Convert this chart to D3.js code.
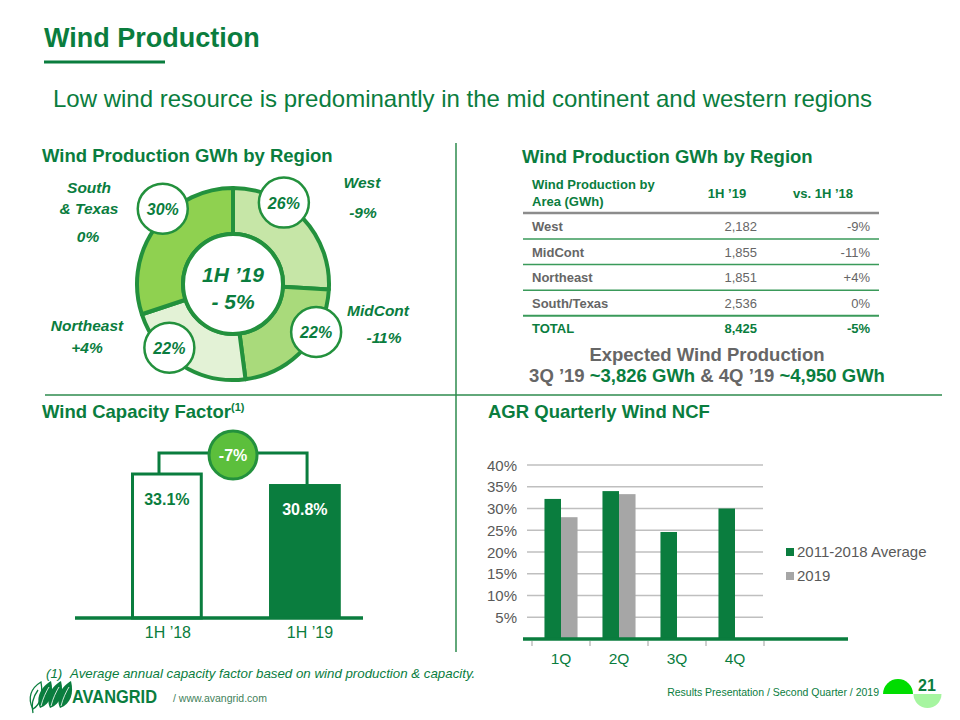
<!DOCTYPE html>
<html>
<head>
<meta charset="utf-8">
<title>Wind Production</title>
<script src="https://d3js.org/d3.v7.min.js"></script>
<style>
  body { margin: 0; background: #fff; }
  svg text { font-family: "Liberation Sans", Arial, sans-serif; }
</style>
</head>
<body>
<script>
// ---- data ----
const regions = ["West", "MidCont", "Northeast", "South/Texas"];
const regionLabels = [["West"], ["MidCont"], ["Northeast"], ["South", "& Texas"]];
const gwh1H19 = [2182, 1855, 1851, 2536];
const shareLabels = ["26%", "22%", "22%", "30%"];
const changeVs1H18 = ["-9%", "-11%", "+4%", "0%"];
const totalGwh = 8425;
const totalChange = "-5%";
const centerLabel = ["1H ’19", "- 5%"];

const capCategories = ["1H ’18", "1H ’19"];
const capValues = [33.1, 30.8];
const capChange = "-7%";

const quarters = ["1Q", "2Q", "3Q", "4Q"];
const seriesNames = ["2011-2018 Average", "2019"];
const ncfAverage = [32.2, 34.0, 24.6, 30.0];
const ncf2019 = [28.0, 33.3, null, null];
const ncfTicks = [5, 10, 15, 20, 25, 30, 35, 40];

// ---- styles ----
const green = "#0a7d3e";
const ringGreen = "#23913d";
const gray = "#666666";
const axisGray = "#595959";
const sliceColors = ["#c6e6a7", "#a9da7b", "#e3f2d6", "#8fd150"];

const svg = d3.select("body").append("svg")
  .attr("width", 960).attr("height", 720);

// ---- titles ----
svg.append("text").attr("x", 44).attr("y", 47)
  .attr("font-size", 27).attr("font-weight", "bold").attr("fill", green)
  .text("Wind Production");
svg.append("line").attr("x1", 44).attr("x2", 165).attr("y1", 62).attr("y2", 62)
  .attr("stroke", green).attr("stroke-width", 3);
svg.append("text").attr("x", 53).attr("y", 107)
  .attr("font-size", 24).attr("fill", green)
  .text("Low wind resource is predominantly in the mid continent and western regions");

// dividers
svg.append("line").attr("x1", 456).attr("x2", 456).attr("y1", 143).attr("y2", 652)
  .attr("stroke", "#2e8b4e").attr("stroke-width", 1.5);
svg.append("line").attr("x1", 45).attr("x2", 942).attr("y1", 395).attr("y2", 395)
  .attr("stroke", "#2e8b4e").attr("stroke-width", 1.5);

function header(x, y, txt) {
  return svg.append("text").attr("x", x).attr("y", y)
    .attr("font-size", 18.5).attr("font-weight", "bold").attr("fill", green).text(txt);
}
header(42, 162, "Wind Production GWh by Region");
header(522, 163, "Wind Production GWh by Region");
const capHead = header(42, 418, "Wind Capacity Factor");
capHead.append("tspan").attr("font-size", 11).attr("dy", -7).text("(1)");
header(488, 418, "AGR Quarterly Wind NCF");

// ---- donut ----
const cx = 233, cy = 284;
const pie = d3.pie().sort(null).value(d => d)(gwh1H19);
const arc = d3.arc().innerRadius(50).outerRadius(96);
const donut = svg.append("g").attr("transform", `translate(${cx},${cy})`);
donut.selectAll("path").data(pie).join("path")
  .attr("d", arc)
  .attr("fill", (d, i) => sliceColors[i])
  .attr("stroke", ringGreen).attr("stroke-width", 4).attr("stroke-linejoin", "round");
donut.append("circle").attr("r", 50).attr("fill", "#fff")
  .attr("stroke", ringGreen).attr("stroke-width", 4);
donut.selectAll("text.center").data(centerLabel).join("text")
  .attr("class", "center").attr("text-anchor", "middle")
  .attr("y", (d, i) => i === 0 ? -2 : 25)
  .attr("font-size", 21).attr("font-weight", "bold").attr("font-style", "italic")
  .attr("fill", green).text(d => d);

// share bubbles on the ring
const bubbleAngle = [32, 120, 225, 317];
const bubbleDist = [96, 96, 90, 103];
const bubbles = donut.selectAll("g.bubble").data(shareLabels).join("g")
  .attr("class", "bubble")
  .attr("transform", (d, i) => {
    const a = bubbleAngle[i] * Math.PI / 180;
    return `translate(${bubbleDist[i] * Math.sin(a)},${-bubbleDist[i] * Math.cos(a)})`;
  });
bubbles.append("circle").attr("r", 25).attr("fill", "#fff")
  .attr("stroke", ringGreen).attr("stroke-width", 2.5);
bubbles.append("text").attr("text-anchor", "middle").attr("y", 6)
  .attr("font-size", 16).attr("font-weight", "bold").attr("font-style", "italic")
  .attr("fill", green).text(d => d);

// region labels
const labelX = [362, 378, 87, 89];
const labelY = [188, 316, 331, 193];
const changeX = [363, 384, 87, 88];
const changeY = [218, 343, 353, 242];
regions.forEach((r, i) => {
  const t = svg.append("text").attr("text-anchor", "middle")
    .attr("font-size", 15.5).attr("font-weight", "bold").attr("font-style", "italic")
    .attr("fill", green);
  regionLabels[i].forEach((line, j) => {
    t.append("tspan").attr("x", labelX[i]).attr("y", labelY[i] + j * 21).text(line);
  });
  svg.append("text").attr("text-anchor", "middle")
    .attr("x", changeX[i]).attr("y", changeY[i])
    .attr("font-size", 15.5).attr("font-weight", "bold").attr("font-style", "italic")
    .attr("fill", green).text(changeVs1H18[i]);
});

// ---- table ----
const tbl = svg.append("g");
const colName = 532, colNum = 757, colPct = 870;
const fmt = d3.format(",");
const rowY = i => 231 + i * 25.6;
tbl.append("text").attr("font-size", 13).attr("font-weight", "bold").attr("fill", green)
  .call(t => {
    t.append("tspan").attr("x", colName).attr("y", 189).text("Wind Production by");
    t.append("tspan").attr("x", colName).attr("y", 206).text("Area (GWh)");
  });
tbl.append("text").attr("x", 727).attr("y", 198).attr("text-anchor", "middle")
  .attr("font-size", 13).attr("font-weight", "bold").attr("fill", green).text("1H ’19");
tbl.append("text").attr("x", 823).attr("y", 198).attr("text-anchor", "middle")
  .attr("font-size", 13).attr("font-weight", "bold").attr("fill", green).text("vs. 1H ’18");
tbl.append("line").attr("x1", 523).attr("x2", 879).attr("y1", 213).attr("y2", 213)
  .attr("stroke", "#8c8c8c").attr("stroke-width", 2.5);

regions.forEach((r, i) => {
  const y = rowY(i);
  tbl.append("text").attr("x", colName).attr("y", y).attr("font-size", 13)
    .attr("font-weight", "bold").attr("fill", gray).text(r);
  tbl.append("text").attr("x", colNum).attr("y", y).attr("text-anchor", "end")
    .attr("font-size", 13).attr("fill", gray).text(fmt(gwh1H19[i]));
  tbl.append("text").attr("x", colPct).attr("y", y).attr("text-anchor", "end")
    .attr("font-size", 13).attr("fill", gray).text(changeVs1H18[i]);
  tbl.append("line").attr("x1", 523).attr("x2", 879)
    .attr("y1", y + 8).attr("y2", y + 8)
    .attr("stroke", "#3a9a5a").attr("stroke-width", i === 3 ? 2 : 1.5);
});
const ty = rowY(4);
tbl.append("text").attr("x", colName).attr("y", ty).attr("font-size", 13)
  .attr("font-weight", "bold").attr("fill", green).text("TOTAL");
tbl.append("text").attr("x", colNum).attr("y", ty).attr("text-anchor", "end")
  .attr("font-size", 13).attr("font-weight", "bold").attr("fill", green).text(fmt(totalGwh));
tbl.append("text").attr("x", colPct).attr("y", ty).attr("text-anchor", "end")
  .attr("font-size", 13).attr("font-weight", "bold").attr("fill", green).text(totalChange);

svg.append("text").attr("x", 707).attr("y", 361).attr("text-anchor", "middle")
  .attr("font-size", 18.5).attr("font-weight", "bold").attr("fill", gray)
  .text("Expected Wind Production");
const exp = svg.append("text").attr("x", 707).attr("y", 382).attr("text-anchor", "middle")
  .attr("font-size", 18.5).attr("font-weight", "bold").attr("fill", gray);
[["3Q ’19 ", gray], ["~3,826 GWh ", green], ["& 4Q ’19 ", gray], ["~4,950 GWh", green]]
  .forEach(([s, c]) => exp.append("tspan").attr("fill", c).text(s));

// ---- capacity factor bars ----
const yCap = d3.scaleLinear().domain([0, 40]).range([618, 444]);
const xCap = d3.scaleBand().domain(capCategories).range([96.5, 375.3])
  .paddingInner(0.48).paddingOuter(0.25);
const bw = xCap.bandwidth();
const cap = svg.append("g");

// connector
const c1x = xCap(capCategories[0]) + bw * 0.39;
const c2x = xCap(capCategories[1]) + bw * 0.53;
cap.append("path")
  .attr("d", `M${c1x},${yCap(capValues[0])}V453H${c2x}V${yCap(capValues[1])}`)
  .attr("fill", "none").attr("stroke", green).attr("stroke-width", 3);

cap.selectAll("rect").data(capValues).join("rect")
  .attr("x", (d, i) => xCap(capCategories[i]) + (i === 0 ? 1.5 : 0))
  .attr("y", d => yCap(d))
  .attr("width", (d, i) => i === 0 ? bw - 3 : bw)
  .attr("height", d => yCap(0) - yCap(d))
  .attr("fill", (d, i) => i === 0 ? "#fff" : green)
  .attr("stroke", green).attr("stroke-width", (d, i) => i === 0 ? 3 : 0);

cap.append("line").attr("x1", 75).attr("x2", 363)
  .attr("y1", yCap(0)).attr("y2", yCap(0))
  .attr("stroke", green).attr("stroke-width", 3.5);

cap.selectAll("text.val").data(capValues).join("text")
  .attr("class", "val").attr("text-anchor", "middle")
  .attr("x", (d, i) => xCap(capCategories[i]) + bw / 2)
  .attr("y", d => yCap(d) + 31)
  .attr("font-size", 16).attr("font-weight", "bold")
  .attr("fill", (d, i) => i === 0 ? green : "#fff")
  .text(d => d.toFixed(1) + "%");

cap.selectAll("text.cat").data(capCategories).join("text")
  .attr("class", "cat").attr("text-anchor", "middle")
  .attr("x", (d, i) => xCap(d) + bw / 2 + (i === 0 ? 1 : 5))
  .attr("y", 638)
  .attr("font-size", 16).attr("fill", green).text(d => d);

const midX = (c1x + c2x) / 2;
cap.append("circle").attr("cx", midX).attr("cy", 455).attr("r", 24)
  .attr("fill", "#5cbf3c").attr("stroke", ringGreen).attr("stroke-width", 3);
cap.append("text").attr("x", midX).attr("y", 461).attr("text-anchor", "middle")
  .attr("font-size", 16).attr("font-weight", "bold").attr("fill", "#fff").text(capChange);

svg.append("text").attr("x", 46).attr("y", 678)
  .attr("font-size", 13.3).attr("font-style", "italic").attr("fill", green).text("(1)");
svg.append("text").attr("x", 70).attr("y", 678)
  .attr("font-size", 13.3).attr("font-style", "italic").attr("fill", green)
  .text("Average annual capacity factor based on wind production & capacity.");

// ---- quarterly NCF ----
const x0 = d3.scaleBand().domain(quarters).range([532, 764])
  .paddingInner(0.43).paddingOuter(0.215);
const x1 = d3.scaleBand().domain(seriesNames).range([0, x0.bandwidth()]);
const y = d3.scaleLinear().domain([0, 40]).range([639, 465]);
const seriesColors = [green, "#a6a6a6"];
const ncf = svg.append("g");

ncf.selectAll("line.grid").data(ncfTicks).join("line")
  .attr("class", "grid").attr("x1", 527).attr("x2", 763)
  .attr("y1", d => y(d)).attr("y2", d => y(d))
  .attr("stroke", "#bfbfbf").attr("stroke-width", 1.5);
ncf.selectAll("text.tick").data(ncfTicks).join("text")
  .attr("class", "tick").attr("x", 517).attr("y", d => y(d) + 5.5)
  .attr("text-anchor", "end").attr("font-size", 15).attr("fill", axisGray)
  .text(d => d + "%");

const series = [ncfAverage, ncf2019];
series.forEach((vals, s) => {
  ncf.selectAll(`rect.s${s}`).data(vals.map((v, i) => ({ v, q: quarters[i] })).filter(d => d.v != null))
    .join("rect").attr("class", `s${s}`)
    .attr("x", d => x0(d.q) + x1(seriesNames[s]))
    .attr("y", d => y(d.v))
    .attr("width", x1.bandwidth())
    .attr("height", d => y(0) - y(d.v))
    .attr("fill", seriesColors[s]);
});

ncf.append("line").attr("x1", 523).attr("x2", 848).attr("y1", y(0)).attr("y2", y(0))
  .attr("stroke", green).attr("stroke-width", 3.5);
const tickXs = quarters.map(q => x0(q) - x0.step() * x0.paddingInner() / 2)
  .concat([x0(quarters[3]) + x0.bandwidth() + x0.step() * x0.paddingInner() / 2]);
ncf.selectAll("line.tk").data(tickXs).join("line")
  .attr("class", "tk").attr("x1", d => d).attr("x2", d => d)
  .attr("y1", y(0) + 2).attr("y2", y(0) + 7)
  .attr("stroke", "#bfbfbf").attr("stroke-width", 1.5);
ncf.selectAll("text.q").data(quarters).join("text")
  .attr("class", "q").attr("x", d => x0(d) + x0.bandwidth() / 2).attr("y", 664)
  .attr("text-anchor", "middle").attr("font-size", 15.5).attr("fill", green).text(d => d);

const leg = ncf.selectAll("g.leg").data(seriesNames).join("g")
  .attr("class", "leg").attr("transform", (d, i) => `translate(786,${548 + i * 24})`);
leg.append("rect").attr("width", 8).attr("height", 8).attr("fill", (d, i) => seriesColors[i]);
leg.append("text").attr("x", 11).attr("y", 9).attr("font-size", 15)
  .attr("fill", axisGray).text(d => d);

// ---- footer ----
const logo = svg.append("g");
// outline leaf on the left, three solid leaves
logo.append("path")
  .attr("d", "M33,709 C27,698 31,688 41,682 C43,694 41,704 33,709 Z")
  .attr("fill", "none").attr("stroke", green).attr("stroke-width", 1.3);
logo.append("path").attr("d", "M33,713 C31,705 33,697 38,690")
  .attr("fill", "none").attr("stroke", green).attr("stroke-width", 1.3);
[45, 55, 65].forEach(lx => {
  logo.append("path")
    .attr("d", `M${lx - 5},708 C${lx - 10},697 ${lx - 3},686 ${lx + 6},681 C${lx + 9},693 ${lx + 6},704 ${lx - 5},708 Z`)
    .attr("fill", green);
  logo.append("path")
    .attr("d", `M${lx - 4},706 C${lx - 2},698 ${lx + 1},692 ${lx + 4},687`)
    .attr("fill", "none").attr("stroke", "#fff").attr("stroke-width", 0.8);
});
svg.append("text").attr("x", 72).attr("y", 703)
  .attr("font-size", 18).attr("font-weight", "bold").attr("fill", green)
  .attr("textLength", 85).attr("lengthAdjust", "spacingAndGlyphs").text("AVANGRID");
svg.append("text").attr("x", 173).attr("y", 702)
  .attr("font-size", 10.5).attr("fill", "#3f7f5a").text("/ www.avangrid.com");
svg.append("text").attr("x", 879).attr("y", 696).attr("text-anchor", "end")
  .attr("font-size", 10.5).attr("fill", green)
  .text("Results Presentation / Second Quarter / 2019");
svg.append("path").attr("d", d3.arc()({ innerRadius: 0, outerRadius: 15, startAngle: -Math.PI / 2, endAngle: Math.PI / 2 }))
  .attr("transform", "translate(898,694)").attr("fill", "#00dd00");
svg.append("path").attr("d", d3.arc()({ innerRadius: 0, outerRadius: 14, startAngle: Math.PI / 2, endAngle: Math.PI * 1.5 }))
  .attr("transform", "translate(927.5,694)").attr("fill", "#a6f5a0");
svg.append("text").attr("x", 918).attr("y", 691)
  .attr("font-size", 16).attr("font-weight", "bold").attr("fill", green).text("21");
</script>
</body>
</html>
